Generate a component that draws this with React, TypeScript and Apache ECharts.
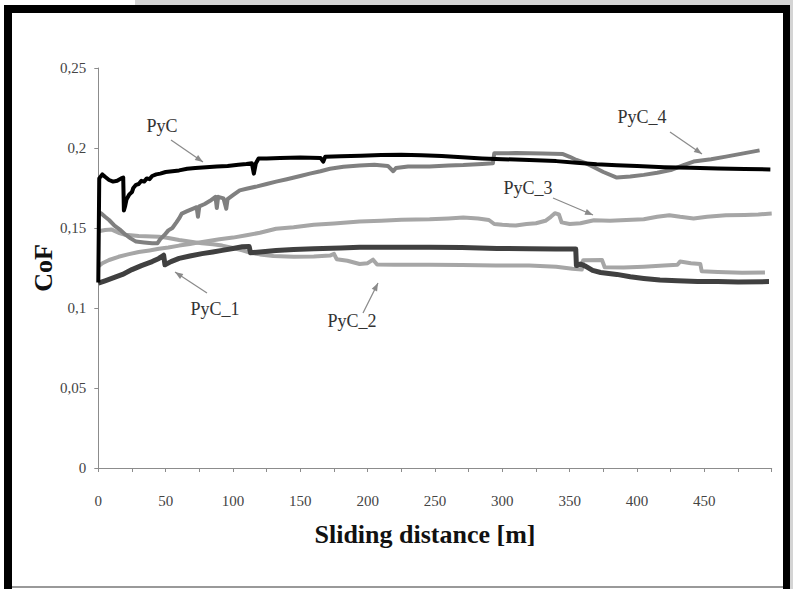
import React, { useEffect, useRef } from "react";
import * as echarts from "echarts";

// ---- data (sliding distance [m], CoF) ----
const pyc: [number, number][] = [
  [0, 0.116], [0.7, 0.181], [3, 0.1835], [5, 0.182], [8, 0.18], [11, 0.179], [14, 0.1795], [17, 0.181],
  [18.5, 0.1815], [19, 0.161], [20, 0.164], [21, 0.168], [23, 0.171], [25, 0.1725], [26, 0.175], [28, 0.177],
  [30, 0.1775], [32, 0.1795], [34, 0.179], [36, 0.181], [38, 0.1805], [40, 0.1825], [43, 0.1835], [46, 0.184],
  [50, 0.185], [55, 0.1855], [60, 0.186], [66, 0.187], [72, 0.1875], [80, 0.188], [88, 0.1885], [96, 0.1888],
  [104, 0.1895], [110, 0.19], [114, 0.1905], [115.5, 0.184], [117, 0.1905], [119, 0.1935], [125, 0.1935],
  [135, 0.1938], [150, 0.194], [165, 0.1938], [167, 0.1915], [168.5, 0.1945], [180, 0.1948], [195, 0.1952],
  [210, 0.1956], [225, 0.1958], [240, 0.1955], [255, 0.195], [270, 0.1942], [285, 0.1935], [300, 0.193],
  [320, 0.1925], [340, 0.1918], [355, 0.1908], [370, 0.1898], [385, 0.1892], [400, 0.1887], [420, 0.188],
  [440, 0.1876], [460, 0.1872], [480, 0.1869], [499, 0.1866],
];
const pyc1: [number, number][] = [
  [0, 0.1155], [5, 0.117], [10, 0.1185], [18, 0.121], [25, 0.124], [32, 0.1265], [40, 0.129], [45, 0.131],
  [48.5, 0.133], [49.5, 0.127], [54, 0.129], [60, 0.131], [68, 0.1325], [77, 0.134], [85, 0.135], [92, 0.136],
  [100, 0.1372], [107, 0.1383], [112, 0.1385], [113, 0.1345], [120, 0.135], [132, 0.136], [145, 0.1365],
  [160, 0.137], [180, 0.1375], [194, 0.138], [220, 0.138], [246, 0.138], [270, 0.1378], [296, 0.1372],
  [320, 0.137], [340, 0.1368], [354.5, 0.1368], [355, 0.1265], [358, 0.1275], [362, 0.126], [367, 0.1235],
  [373, 0.1222], [385, 0.121], [395, 0.1195], [405, 0.1185], [417, 0.1175], [430, 0.117], [445, 0.1165],
  [460, 0.1165], [475, 0.1163], [498, 0.1165],
];
const pyc2: [number, number][] = [
  [0, 0.148], [5, 0.1488], [10, 0.149], [15, 0.147], [20, 0.1458], [30, 0.145], [45, 0.1446], [52, 0.1438],
  [60, 0.1425], [70, 0.1412], [77, 0.1404], [85, 0.1398], [92, 0.139], [100, 0.1375], [107, 0.136],
  [113, 0.1345], [120, 0.1335], [130, 0.1325], [145, 0.132], [160, 0.1322], [172, 0.1328], [175, 0.1338],
  [177, 0.1305], [185, 0.1295], [194, 0.1275], [200, 0.128], [204, 0.1302], [207, 0.1272], [220, 0.127],
  [246, 0.127], [270, 0.1268], [295, 0.1265], [320, 0.1265], [340, 0.1258], [352, 0.1245], [359, 0.124],
  [360, 0.1298], [374, 0.13], [376, 0.1255], [390, 0.1253], [405, 0.1258], [420, 0.1265], [430, 0.127],
  [432, 0.129], [440, 0.128], [447, 0.1275], [448, 0.123], [460, 0.1225], [478, 0.122], [495, 0.1222],
];
const pyc3: [number, number][] = [
  [0, 0.126], [3, 0.128], [8, 0.13], [15, 0.132], [22, 0.1335], [30, 0.135], [38, 0.136], [45, 0.137],
  [52, 0.1378], [60, 0.139], [68, 0.14], [75, 0.141], [83, 0.142], [90, 0.143], [100, 0.144], [110, 0.1455],
  [120, 0.147], [132, 0.1495], [145, 0.1505], [160, 0.152], [175, 0.1528], [194, 0.154], [210, 0.1545],
  [225, 0.1552], [246, 0.1555], [260, 0.156], [271, 0.1565], [282, 0.156], [290, 0.155], [294, 0.1525],
  [300, 0.152], [310, 0.1515], [318, 0.1525], [325, 0.153], [332, 0.1545], [336, 0.157], [339, 0.1592],
  [342, 0.1585], [344, 0.1535], [350, 0.1525], [358, 0.153], [368, 0.1548], [380, 0.1545], [392, 0.155],
  [405, 0.1555], [415, 0.157], [424, 0.158], [432, 0.157], [442, 0.156], [452, 0.157], [466, 0.158],
  [480, 0.1582], [490, 0.1585], [500, 0.159],
];
const pyc4: [number, number][] = [
  [0, 0.16], [2, 0.1592], [5, 0.157], [8, 0.155], [12, 0.1515], [16, 0.149], [20, 0.146], [24, 0.1435],
  [28, 0.1415], [34, 0.141], [40, 0.1405], [44, 0.1405], [46, 0.143], [49, 0.1455], [52, 0.1485], [55, 0.15],
  [58, 0.1535], [60, 0.156], [62, 0.159], [66, 0.1605], [70, 0.162], [73, 0.163], [74, 0.157], [75, 0.1635],
  [79, 0.165], [83, 0.167], [87, 0.1695], [88, 0.1625], [89, 0.1695], [93, 0.1685], [95, 0.162], [96, 0.168],
  [100, 0.1705], [105, 0.1735], [110, 0.1745], [118, 0.176], [125, 0.1775], [132, 0.179], [140, 0.1805],
  [150, 0.1825], [157, 0.184], [165, 0.1855], [172, 0.187], [182, 0.1883], [194, 0.189], [205, 0.1895],
  [215, 0.1888], [219, 0.1855], [221, 0.1875], [230, 0.1885], [246, 0.1885], [260, 0.189], [271, 0.1893],
  [285, 0.19], [293, 0.1905], [294, 0.1967], [310, 0.1968], [330, 0.1965], [345, 0.1962], [350, 0.1945],
  [355, 0.1925], [362, 0.1905], [368, 0.188], [375, 0.185], [385, 0.1815], [395, 0.1822], [405, 0.1832],
  [415, 0.1845], [425, 0.1862], [435, 0.1895], [442, 0.1915], [455, 0.193], [466, 0.1946], [478, 0.1965],
  [491, 0.1985],
];

const yTicks = [0, 0.05, 0.1, 0.15, 0.2, 0.25];
const xLabelled = [0, 50, 100, 150, 200, 250, 300, 350, 400, 450];

// annotation labels: [text, x, y] and arrows [x1,y1,x2(head),y2(head)]
const labels: [string, number, number][] = [
  ["PyC", 162, 126],
  ["PyC_4", 642, 116.5],
  ["PyC_3", 528, 188],
  ["PyC_1", 215, 309],
  ["PyC_2", 352, 321],
];
const arrows: [number, number, number, number][] = [
  [171, 140, 203, 162],
  [207, 293, 175, 272],
  [363, 313, 378, 283],
  [553, 198, 593, 215],
  [670, 132, 702, 154],
];

const SERIF = "'Liberation Serif', 'Times New Roman', serif";

function arrowHead(x1: number, y1: number, x2: number, y2: number) {
  const dx = x2 - x1, dy = y2 - y1;
  const len = Math.sqrt(dx * dx + dy * dy);
  const ux = dx / len, uy = dy / len;
  const L = 8, W = 3;
  const bx = x2 - ux * L, by = y2 - uy * L;
  return [
    [x2, y2],
    [bx - uy * W, by + ux * W],
    [bx + uy * W, by - ux * W],
  ];
}

export default function App() {
  const ref = useRef<HTMLDivElement>(null);
  useEffect(() => {
    if (!ref.current) return;
    const chart = echarts.init(ref.current, null, { renderer: "svg" });
    const graphics: any[] = [
      { type: "rect", shape: { x: 135, y: 0, width: 658, height: 5 }, style: { fill: "#d4d4d4" } },
      { type: "rect", shape: { x: 790, y: 0, width: 3, height: 589 }, style: { fill: "#d4d4d4" } },
      { type: "rect", shape: { x: 4, y: 5, width: 786, height: 8 }, style: { fill: "#000" } },
      { type: "rect", shape: { x: 4, y: 5, width: 8, height: 584 }, style: { fill: "#000" } },
      { type: "rect", shape: { x: 783, y: 5, width: 7, height: 584 }, style: { fill: "#000" } },
      { type: "line", shape: { x1: 12, y1: 587, x2: 783, y2: 587 }, style: { stroke: "#777", lineWidth: 1.5 } },
      {
        type: "text", x: 425, y: 534,
        style: { text: "Sliding distance [m]", fontFamily: SERIF, fontWeight: "bold", fontSize: 26, fill: "#111", textAlign: "center", textVerticalAlign: "middle" },
      },
      {
        type: "text", x: 43, y: 268, rotation: Math.PI / 2,
        style: { text: "CoF", fontFamily: SERIF, fontWeight: "bold", fontSize: 26, fill: "#111", textAlign: "center", textVerticalAlign: "middle" },
      },
    ];
    labels.forEach(([t, x, y]) => {
      graphics.push({
        type: "text", x, y, z: 10,
        style: { text: t, fontFamily: SERIF, fontSize: 18, fill: "#333", textAlign: "center", textVerticalAlign: "middle" },
      });
    });
    arrows.forEach(([x1, y1, x2, y2]) => {
      graphics.push({ type: "line", z: 10, shape: { x1, y1, x2, y2 }, style: { stroke: "#8a8a8a", lineWidth: 1.2 } });
      graphics.push({ type: "polygon", z: 10, shape: { points: arrowHead(x1, y1, x2, y2) }, style: { fill: "#8a8a8a" } });
    });

    const mk = (name: string, data: [number, number][], color: string, width: number, z: number) => ({
      name, type: "line", data, showSymbol: false, symbol: "none", z,
      lineStyle: { color, width, join: "round" }, clip: true,
    });

    chart.setOption({
      animation: false,
      backgroundColor: "#fff",
      grid: { left: 98.3, right: 21.3, top: 68, bottom: 121 },
      xAxis: {
        type: "value", min: 0, max: 500, interval: 25,
        axisLine: { show: true, onZero: false, lineStyle: { color: "#8c8c8c", width: 1 } },
        axisTick: { show: true, length: 4, inside: false, lineStyle: { color: "#8c8c8c" } },
        splitLine: { show: false },
        axisLabel: {
          margin: 25, fontFamily: SERIF, fontSize: 15, color: "#444",
          formatter: (v: number) => (xLabelled.indexOf(v) >= 0 ? String(v) : ""),
        },
      },
      yAxis: {
        type: "value", min: 0, max: 0.25, interval: 0.05,
        axisLine: { show: true, lineStyle: { color: "#8c8c8c", width: 1 } },
        axisTick: { show: true, length: 4, inside: false, lineStyle: { color: "#8c8c8c" } },
        splitLine: { show: false },
        axisLabel: {
          margin: 12, fontFamily: SERIF, fontSize: 15, color: "#444",
          formatter: (v: number) => {
            const r = Math.round(v * 100) / 100;
            return yTicks.indexOf(r) >= 0 ? String(r).replace(".", ",") : "";
          },
        },
      },
      series: [
        mk("PyC_2", pyc2, "#a6a6a6", 4, 2),
        mk("PyC_3", pyc3, "#a6a6a6", 4, 3),
        mk("PyC_4", pyc4, "#808080", 4, 4),
        mk("PyC_1", pyc1, "#404040", 5, 5),
        mk("PyC", pyc, "#000000", 4, 6),
      ],
      graphic: graphics,
    });
    return () => chart.dispose();
  }, []);
  return (
    <div
      ref={ref}
      style={{ position: "fixed", left: 0, top: 0, width: 793, height: 589 }}
    />
  );
}
